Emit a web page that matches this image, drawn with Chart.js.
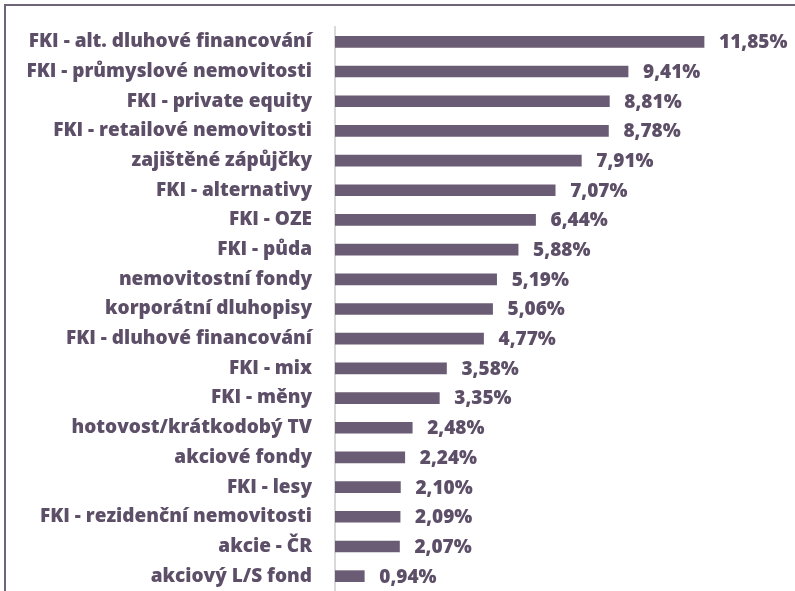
<!DOCTYPE html>
<html>
<head>
<meta charset="utf-8">
<script src="https://cdn.jsdelivr.net/npm/chart.js@4.4.1/dist/chart.umd.min.js"></script>
<style>
  html, body { margin: 0; padding: 0; background: #fff; overflow: hidden; }
  #wrap { position: absolute; left: 0; top: 0; width: 795px; height: 591px; }
  #frame { position: absolute; left: 4px; top: 4px; width: 900px; height: 900px; border: 2px solid #6e6478; box-sizing: border-box; }
</style>
</head>
<body>
<div id="frame"></div>
<div id="wrap"><canvas id="returnChart"></canvas></div>
<script>
const categories = [
    'FKI - alt. dluhové financování',
    'FKI - průmyslové nemovitosti',
    'FKI - private equity',
    'FKI - retailové nemovitosti',
    'zajištěné zápůjčky',
    'FKI - alternativy',
    'FKI - OZE',
    'FKI - půda',
    'nemovitostní fondy',
    'korporátní dluhopisy',
    'FKI - dluhové financování',
    'FKI - mix',
    'FKI - měny',
    'hotovost/krátkodobý TV',
    'akciové fondy',
    'FKI - lesy',
    'FKI - rezidenční nemovitosti',
    'akcie - ČR',
    'akciový L/S fond'
];
const returns = [11.85, 9.41, 8.81, 8.78, 7.91, 7.07, 6.44, 5.88, 5.19, 5.06, 4.77, 3.58, 3.35, 2.48, 2.24, 2.10, 2.09, 2.07, 0.94];

const textColor = '#5d4f68';
const barColor = '#6a5c74';
const fontFamily = '"Open Sans", sans-serif';

// popisky hodnot za koncem sloupce
const valueLabels = {
    id: 'valueLabels',
    afterDatasetsDraw(chart) {
        const ctx = chart.ctx;
        const meta = chart.getDatasetMeta(0);
        ctx.save();
        ctx.font = '800 19px ' + fontFamily;
        ctx.fillStyle = textColor;
        ctx.textAlign = 'left';
        ctx.textBaseline = 'middle';
        meta.data.forEach((bar, i) => {
            const txt = returns[i].toFixed(2).replace('.', ',') + '%';
            ctx.fillText(txt, bar.x + 15, bar.y + 1);
        });
        ctx.restore();
    }
};

var ctx = document.getElementById('returnChart').getContext('2d');

var returnChart = new Chart(ctx, {
    type: 'bar',
    data: {
        labels: categories,
        datasets: [
            {
                data: returns,
                backgroundColor: barColor,
                barThickness: 11
            }
        ]
    },
    options: {
        indexAxis: 'y',
        responsive: true,
        maintainAspectRatio: false,
        animation: false,
        layout: {
            padding: { top: 27, bottom: 0, left: 0, right: 24 }
        },
        scales: {
            x: {
                display: false,
                min: 0,
                max: 14
            },
            y: {
                afterFit: function (scale) {
                    scale.width = 335;
                    scale.paddingTop = 0;
                    scale.paddingBottom = 0;
                },
                grid: { display: false, drawTicks: true, tickLength: 23 },
                border: { display: true, color: '#d9d9d9', width: 2 },
                ticks: {
                    padding: 0,
                    color: textColor,
                    font: { size: 19, weight: 800, family: fontFamily }
                }
            }
        },
        plugins: {
            legend: { display: false },
            tooltip: { enabled: false }
        }
    },
    plugins: [valueLabels]
});
</script>
</body>
</html>
